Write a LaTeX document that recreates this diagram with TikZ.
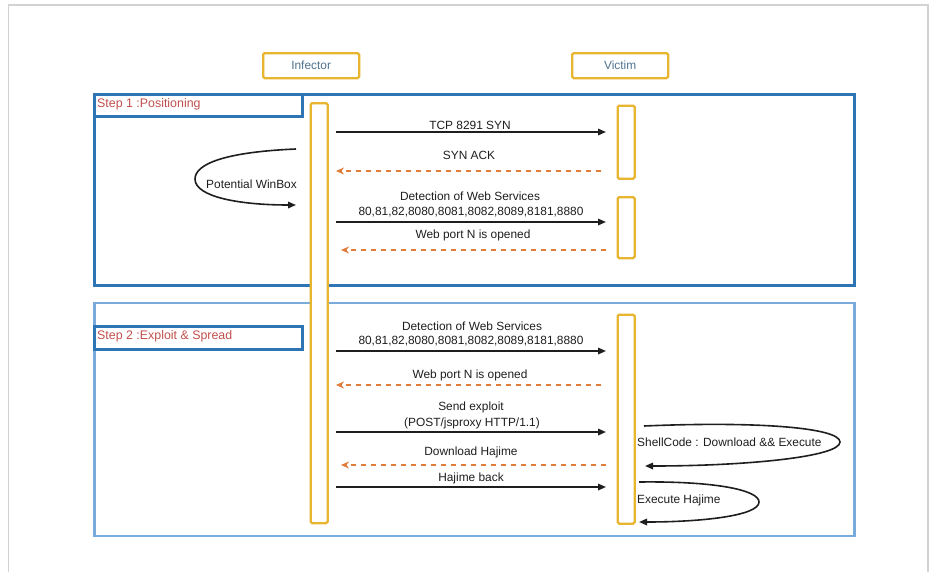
\documentclass[tikz,border=0pt]{standalone}
\usepackage{fontspec}
\setmainfont{Liberation Sans}
\usetikzlibrary{arrows.meta}
\definecolor{framec}{HTML}{D2D2D2}
\definecolor{stepA}{HTML}{2E75B6}
\definecolor{stepB}{HTML}{78AADC}
\definecolor{actorc}{HTML}{E8B530}
\definecolor{redtxt}{HTML}{C0504D}
\definecolor{hdrtxt}{HTML}{4F7391}
\definecolor{retc}{HTML}{E07B39}
\definecolor{txtc}{HTML}{1E1E1E}
\begin{document}
\begin{tikzpicture}[x=1pt,y=-1pt,
  font=\fontsize{11.9}{14}\selectfont,
  actorbox/.style={draw=actorc, line width=2.3pt, rounded corners=1.5pt, fill=white,
     minimum width=96pt, minimum height=25pt, inner sep=0pt, text=hdrtxt, anchor=north west},
  lifebar/.style={draw=actorc, line width=2.3pt, rounded corners=1.5pt, fill=white,
     minimum width=17pt, inner sep=0pt, anchor=north west},
  stepbox/.style={line width=2.6pt, inner sep=0pt, anchor=north west},
  steplabel/.style={text=redtxt, anchor=west, inner sep=0pt, font=\fontsize{12.4}{14}\selectfont},
  msg/.style={text=txtc, inner sep=0pt, anchor=center},
  callarrow/.style={draw=txtc, line width=1.6pt, -{Triangle[length=8pt,width=6.5pt]}},
  retarrow/.style={draw=retc, line width=1.5pt, dash pattern=on 5.5pt off 4.5pt,
     -{Stealth[length=8pt,width=7pt]}},
  loopline/.style={draw=txtc, line width=1.6pt, -{Triangle[length=8pt,width=6.5pt]}}
]
\useasboundingbox (0,0) rectangle (934,571);
% outer frame
\draw[framec, line width=1.6pt] (8.5,575) -- (8.5,5) -- (928,5) -- (928,575);

% actors
\node[actorbox] (infector) at (262,52) {Infector};
\node[actorbox] (victim) at (571,52) {Victim};

% step boxes
\node[stepbox, draw=stepA, minimum width=760pt, minimum height=191pt] (step1) at (93,93) {};
\node[stepbox, draw=stepA, minimum width=208pt, minimum height=22pt] (step1lbl) at (93,93) {};
\node[steplabel] (step1txt) at (97,104) {Step 1 :Positioning};

\node[stepbox, draw=stepB, minimum width=760pt, minimum height=233pt] (step2) at (93,301.5) {};
\node[stepbox, draw=stepA, minimum width=208pt, minimum height=23pt] (step2lbl) at (93,325) {};
\node[steplabel] (step2txt) at (97,336.5) {Step 2 :Exploit \& Spread};

% lifelines / activation bars
\node[lifebar, minimum height=420pt] (ibar) at (309.5,102) {};
\node[lifebar, minimum height=73pt] (vbar1) at (616.5,104.5) {};
\node[lifebar, minimum height=61pt] (vbar2) at (616.5,196) {};
\node[lifebar, minimum height=209pt] (vbar3) at (616.5,313.5) {};

% endpoints
\coordinate (a1s) at (336,132);   \coordinate (a1e) at (606,132);
\coordinate (a2s) at (601,171);   \coordinate (a2e) at (336,171);
\coordinate (a3s) at (336,222);   \coordinate (a3e) at (606,222);
\coordinate (a4s) at (606,250);   \coordinate (a4e) at (341,250);
\coordinate (b1s) at (336,351);   \coordinate (b1e) at (606,351);
\coordinate (b2s) at (601,385);   \coordinate (b2e) at (336,385);
\coordinate (b3s) at (336,432);   \coordinate (b3e) at (606,432);
\coordinate (b4s) at (606,465);   \coordinate (b4e) at (341,465);
\coordinate (b5s) at (336,487);   \coordinate (b5e) at (606,487);

% step 1 messages
\draw[callarrow] (a1s) -- (a1e);
\node[msg] (t1) at (470,125) {TCP 8291 SYN};
\draw[retarrow] (a2s) -- (a2e);
\node[msg] (t2) at (469,155) {SYN ACK};
\draw[callarrow] (a3s) -- (a3e);
\node[msg] (t3a) at (470,196) {Detection of Web Services};
\node[msg] (t3b) at (471,212) {80,81,82,8080,8081,8082,8089,8181,8880};
\draw[retarrow] (a4s) -- (a4e);
\node[msg] (t4) at (473,235) {Web port N is opened};

% WinBox loop
\coordinate (w1) at (296,149);
\coordinate (w2) at (296,205);
\draw[loopline] (w1) .. controls (225,152) and (195,164) .. (195,179)
   .. controls (195,197) and (240,205) .. (w2);
\node[msg, anchor=west] (winbox) at (206,184) {Potential WinBox};

% step 2 messages
\draw[callarrow] (b1s) -- (b1e);
\node[msg] (u1a) at (472,326) {Detection of Web Services};
\node[msg] (u1b) at (471,341.5) {80,81,82,8080,8081,8082,8089,8181,8880};
\draw[retarrow] (b2s) -- (b2e);
\node[msg] (u2) at (470,375) {Web port N is opened};
\draw[callarrow] (b3s) -- (b3e);
\node[msg] (u3a) at (471,407) {Send exploit};
\node[msg] (u3b) at (472,423) {(POST/jsproxy HTTP/1.1)};
\draw[retarrow] (b4s) -- (b4e);
\node[msg] (u4) at (471,452) {Download Hajime};
\draw[callarrow] (b5s) -- (b5e);
\node[msg] (u5) at (471,478) {Hajime back};

% ShellCode loop
\coordinate (s1) at (644,426);
\coordinate (s2) at (645,466);
\draw[loopline] (s1) .. controls (760,421) and (840,428) .. (840,442)
   .. controls (840,457) and (745,466) .. (s2);
\node[msg, anchor=west] (shell) at (637,442) {ShellCode : Download \&\& Execute};

% Execute loop
\coordinate (e1) at (639,482);
\coordinate (e2) at (639,522);
\draw[loopline] (e1) .. controls (715,481) and (759,490) .. (759,502)
   .. controls (759,516) and (700,522) .. (e2);
\node[msg, anchor=west] (exec) at (637,500) {Execute Hajime};
\end{tikzpicture}
\end{document}
